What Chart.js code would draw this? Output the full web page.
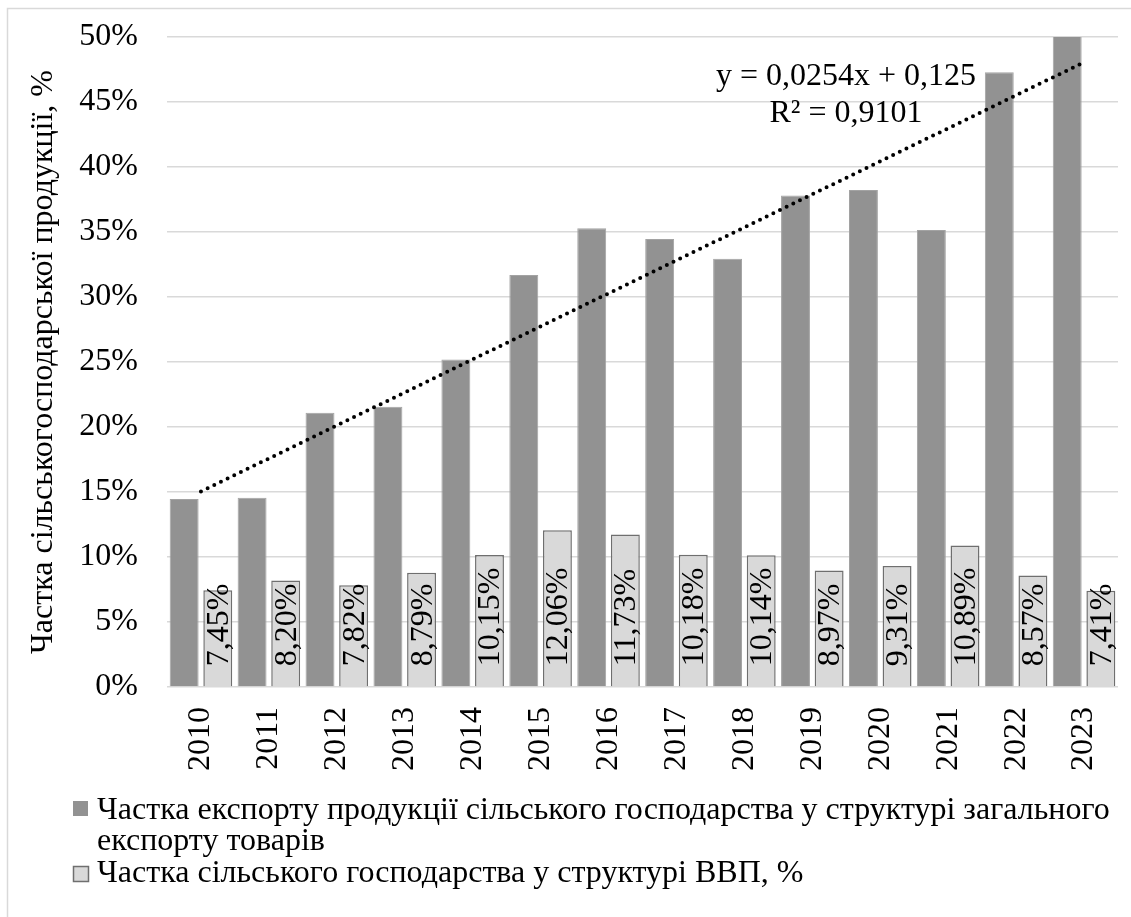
<!DOCTYPE html>
<html lang="uk">
<head>
<meta charset="utf-8">
<title>Частка сільськогосподарської продукції</title>
<script src="https://cdn.jsdelivr.net/npm/chart.js@4.4.1/dist/chart.umd.min.js"></script>
<style>
    html, body { margin: 0; padding: 0; background: #fff; }
    #wrap { position: relative; width: 1131px; height: 917px; }
</style>
</head>
<body>
<div id="wrap"><canvas id="chart" width="1131" height="917"></canvas></div>
<script>
'use strict';

/**
 * Data
 */

const years = ['2010', '2011', '2012', '2013', '2014', '2015', '2016',
    '2017', '2018', '2019', '2020', '2021', '2022', '2023'];

// частка експорту с/г продукції у загальному експорті товарів, %
const exportShare = [14.46, 14.56, 21.1, 21.56, 25.2, 31.7, 35.28,
    34.46, 32.95, 37.8, 38.23, 35.15, 47.28, 50.3];

// частка сільського господарства у структурі ВВП, %
const gdpShare = [7.45, 8.20, 7.82, 8.79, 10.15, 12.06, 11.73,
    10.18, 10.14, 8.97, 9.31, 10.89, 8.57, 7.41];

// linear trend, first and last point only
const trendStart = 15.04;
const trendEnd = 48.06;

const yTicks = [0, 5, 10, 15, 20, 25, 30, 35, 40, 45, 50];

const seriesNames = [
    ['Частка експорту продукції сільського господарства у структурі загального', 'експорту товарів'],
    ['Частка сільського господарства у структурі ВВП, %']
];
const trendText = ['y = 0,0254x + 0,125', 'R² = 0,9101'];
const yTitle = 'Частка сільськогосподарської продукції, %';

/**
 * Styles
 */

const FONT = '"Liberation Serif", "Times New Roman", serif';
const SIZE = 32;
const DARK = '#929292';
const LIGHT = '#d9d9d9';
const LIGHT_EDGE = '#6f6f6f';
const GRID = '#d9d9d9';

const pct = (v) => v.toFixed(2).replace('.', ',') + '%';

const trendData = years.map((_y, i) => {
    if (i === 0) return trendStart;
    if (i === years.length - 1) return trendEnd;
    return null;
});

// scales add label overflow + tick padding round the plot; the layout padding handles it here
const noScalePadding = (scale) => {
    scale.paddingTop = 0;
    scale.paddingBottom = 0;
    scale.paddingLeft = 0;
    scale.paddingRight = 0;
};

// frame round the figure (only left and top edges are visible)
const framePlugin = {
    id: 'frame',
    beforeDraw(chart) {
        const ctx = chart.ctx;
        ctx.save();
        ctx.strokeStyle = GRID;
        ctx.lineWidth = 1.5;
        ctx.beginPath();
        ctx.moveTo(7.5, chart.height);
        ctx.lineTo(7.5, 8.5);
        ctx.lineTo(chart.width, 8.5);
        ctx.stroke();
        ctx.restore();
    }
};

// vertical value labels inside the light bars
const barLabels = {
    id: 'barLabels',
    afterDatasetsDraw(chart) {
        const ctx = chart.ctx;
        const meta = chart.getDatasetMeta(1);
        ctx.save();
        ctx.font = SIZE + 'px ' + FONT;
        ctx.fillStyle = '#000';
        ctx.textAlign = 'left';
        ctx.textBaseline = 'alphabetic';
        meta.data.forEach((bar, i) => {
            ctx.save();
            ctx.translate(bar.x + 10, bar.base - 20);
            ctx.rotate(-Math.PI / 2);
            ctx.fillText(pct(gdpShare[i]), 0, 0);
            ctx.restore();
        });
        ctx.restore();
    }
};

// trend equation + legend drawn with wrapped text
const extras = {
    id: 'extras',
    afterDraw(chart) {
        const ctx = chart.ctx;
        const area = chart.chartArea;
        ctx.save();
        ctx.font = SIZE + 'px ' + FONT;
        ctx.fillStyle = '#000';

        ctx.textAlign = 'center';
        ctx.textBaseline = 'alphabetic';
        const cx = area.left + 679;
        ctx.fillText(trendText[0], cx, area.top + 48);
        ctx.fillText(trendText[1], cx, area.top + 85);

        // legend
        ctx.textAlign = 'left';
        ctx.fillStyle = DARK;
        ctx.fillRect(73, 801, 15, 15);
        ctx.fillStyle = LIGHT;
        ctx.fillRect(73.5, 866.5, 15, 15);
        ctx.strokeStyle = LIGHT_EDGE;
        ctx.lineWidth = 1.5;
        ctx.strokeRect(73.5, 866.5, 15, 15);

        ctx.fillStyle = '#000';
        ctx.fillText(seriesNames[0][0], 97, 819);
        ctx.fillText(seriesNames[0][1], 97, 850);
        ctx.fillText(seriesNames[1][0], 97, 882);
        ctx.restore();
    }
};

const config = {
    type: 'bar',
    data: {
        labels: years,
        datasets: [
            {
                label: seriesNames[0].join(' '),
                data: exportShare,
                backgroundColor: DARK,
                borderColor: '#a3a3a3',
                borderWidth: 1,
                order: 2
            },
            {
                label: seriesNames[1][0],
                data: gdpShare,
                backgroundColor: LIGHT,
                borderColor: LIGHT_EDGE,
                borderWidth: 1.5,
                order: 2
            },
            {
                type: 'line',
                label: 'trend',
                data: trendData,
                spanGaps: true,
                borderColor: '#000',
                borderWidth: 4,
                borderDash: [0, 7.4],
                borderCapStyle: 'round',
                pointRadius: 0,
                fill: false,
                order: 0
            }
        ]
    },
    options: {
        responsive: false,
        animation: false,
        maintainAspectRatio: false,
        categoryPercentage: 0.99,
        barPercentage: 0.86,
        layout: {
            padding: { top: 37, right: 13, bottom: 130, left: 10 }
        },
        plugins: {
            legend: { display: false },
            tooltip: { enabled: false }
        },
        scales: {
            x: {
                grid: { display: false, drawTicks: false },
                border: { display: false },
                ticks: {
                    color: '#000',
                    font: { family: FONT, size: SIZE },
                    minRotation: 90,
                    maxRotation: 90,
                    padding: 20,
                    autoSkip: false
                },
                afterFit: (scale) => {
                    scale.height = 100;
                    noScalePadding(scale);
                }
            },
            y: {
                min: 0,
                max: 50,
                afterBuildTicks: (scale) => {
                    scale.ticks = yTicks.map((v) => ({ value: v }));
                },
                grid: { color: GRID, lineWidth: 1.5, drawTicks: false },
                border: { display: false },
                ticks: {
                    color: '#000',
                    font: { family: FONT, size: SIZE },
                    padding: 29,
                    callback: (v) => v + '%'
                },
                title: {
                    display: true,
                    text: yTitle,
                    color: '#000',
                    font: { family: FONT, size: SIZE },
                    padding: { top: 14, bottom: 0 }
                },
                afterFit: (scale) => {
                    scale.width = 157;
                    noScalePadding(scale);
                }
            }
        }
    },
    plugins: [framePlugin, barLabels, extras]
};

new Chart(document.getElementById('chart'), config);
</script>
</body>
</html>
